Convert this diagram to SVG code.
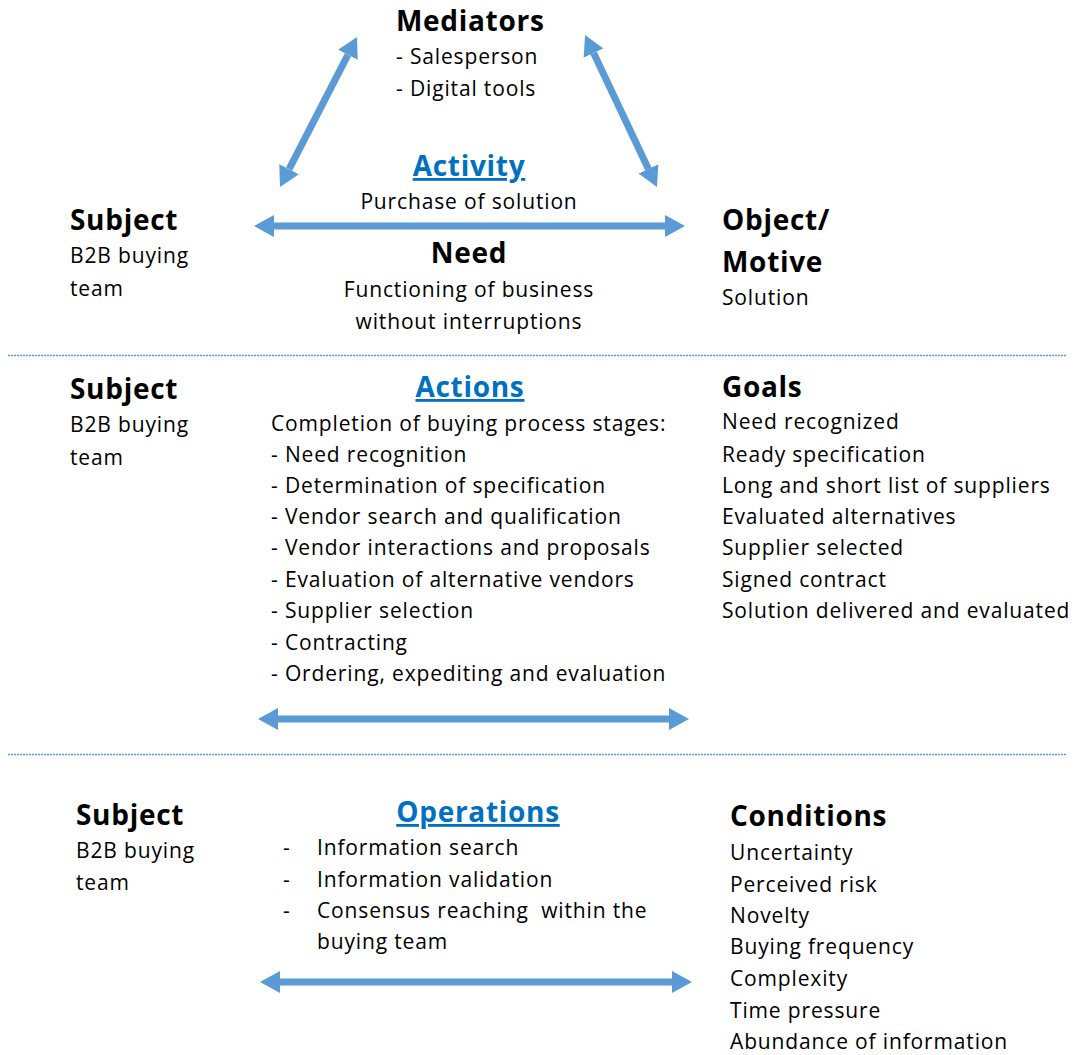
<svg xmlns="http://www.w3.org/2000/svg" width="1076" height="1055" viewBox="0 0 1076 1055">
<style>
text{font-family:"Open Sans","Noto Sans","Liberation Sans",sans-serif;fill:#000;}
.b{font-size:21px;letter-spacing:0.85px;}
.h{font-size:28px;font-weight:bold;letter-spacing:0.7px;}
.u{font-size:28px;font-weight:bold;letter-spacing:0.7px;fill:#0070C0;text-decoration:underline;}
.c{text-anchor:middle;}
.arr{stroke:#5B9BD5;stroke-width:7;fill:none;marker-start:url(#ah);marker-end:url(#ah);}
.sep{stroke:#5B9BD5;stroke-width:1.5;stroke-dasharray:2 1;fill:none;}
</style>
<defs>
<marker id="ah" markerUnits="userSpaceOnUse" markerWidth="22" markerHeight="24" refX="0" refY="12" orient="auto-start-reverse" viewBox="0 0 22 24">
<path d="M0,1 L20,12 L0,23 Z" fill="#5B9BD5"/>
</marker>
</defs>
<rect width="1076" height="1055" fill="#fff"/>
<g id="connectors">
<line class="arr" x1="289.1" y1="169.2" x2="347.9" y2="54.8"/>
<line class="arr" x1="593.6" y1="53.1" x2="648.4" y2="168.9"/>
<line class="arr" x1="274" y1="226" x2="665" y2="226"/>
<line class="arr" x1="278" y1="719" x2="669" y2="719"/>
<line class="arr" x1="280" y1="982" x2="672" y2="982"/>
<line class="sep" x1="8" y1="355.5" x2="1066" y2="355.5"/>
<line class="sep" x1="8" y1="754.5" x2="1066" y2="754.5"/>
</g>
<g id="mediators">
<text class="h" x="396" y="31">Mediators</text>
<text class="b" x="396" y="64">- Salesperson</text>
<text class="b" x="396" y="96">- Digital tools</text>
</g>
<g id="activity">
<text class="u c" x="469" y="176">Activity</text>
<text class="b c" x="469" y="209">Purchase of solution</text>
</g>
<g id="need">
<text class="h c" x="469" y="263">Need</text>
<text class="b c" x="469" y="297">Functioning of business</text>
<text class="b c" x="469" y="329">without interruptions</text>
</g>
<g id="subject1">
<text class="h" x="70" y="230">Subject</text>
<text class="b" x="70" y="263">B2B buying</text>
<text class="b" x="70" y="296">team</text>
</g>
<g id="object">
<text class="h" x="722" y="230">Object/</text>
<text class="h" x="722" y="272">Motive</text>
<text class="b" x="722" y="305">Solution</text>
</g>
<g id="subject2">
<text class="h" x="70" y="399">Subject</text>
<text class="b" x="70" y="432">B2B buying</text>
<text class="b" x="70" y="465">team</text>
</g>
<g id="actions">
<text class="u c" x="470" y="397">Actions</text>
<text class="b" x="271" y="431">Completion of buying process stages:</text>
<text class="b" x="271" y="462">- Need recognition</text>
<text class="b" x="271" y="493">- Determination of specification</text>
<text class="b" x="271" y="524">- Vendor search and qualification</text>
<text class="b" x="271" y="555">- Vendor interactions and proposals</text>
<text class="b" x="271" y="587">- Evaluation of alternative vendors</text>
<text class="b" x="271" y="618">- Supplier selection</text>
<text class="b" x="271" y="650">- Contracting</text>
<text class="b" x="271" y="681">- Ordering, expediting and evaluation</text>
</g>
<g id="goals">
<text class="h" x="722" y="397">Goals</text>
<text class="b" x="722" y="429">Need recognized</text>
<text class="b" x="722" y="462">Ready specification</text>
<text class="b" x="722" y="493">Long and short list of suppliers</text>
<text class="b" x="722" y="524">Evaluated alternatives</text>
<text class="b" x="722" y="555">Supplier selected</text>
<text class="b" x="722" y="587">Signed contract</text>
<text class="b" x="722" y="618">Solution delivered and evaluated</text>
</g>
<g id="subject3">
<text class="h" x="76" y="825">Subject</text>
<text class="b" x="76" y="858">B2B buying</text>
<text class="b" x="76" y="890">team</text>
</g>
<g id="operations">
<text class="u c" x="478" y="822">Operations</text>
<text class="b" x="283" y="855">-</text>
<text class="b" x="317" y="855">Information search</text>
<text class="b" x="283" y="887">-</text>
<text class="b" x="317" y="887">Information validation</text>
<text class="b" x="283" y="918">-</text>
<text class="b" x="317" y="918" xml:space="preserve">Consensus reaching  within the</text>
<text class="b" x="317" y="949">buying team</text>
</g>
<g id="conditions">
<text class="h" x="730" y="826">Conditions</text>
<text class="b" x="730" y="860">Uncertainty</text>
<text class="b" x="730" y="892">Perceived risk</text>
<text class="b" x="730" y="923">Novelty</text>
<text class="b" x="730" y="954">Buying frequency</text>
<text class="b" x="730" y="986">Complexity</text>
<text class="b" x="730" y="1018">Time pressure</text>
<text class="b" x="730" y="1049">Abundance of information</text>
</g>
</svg>
